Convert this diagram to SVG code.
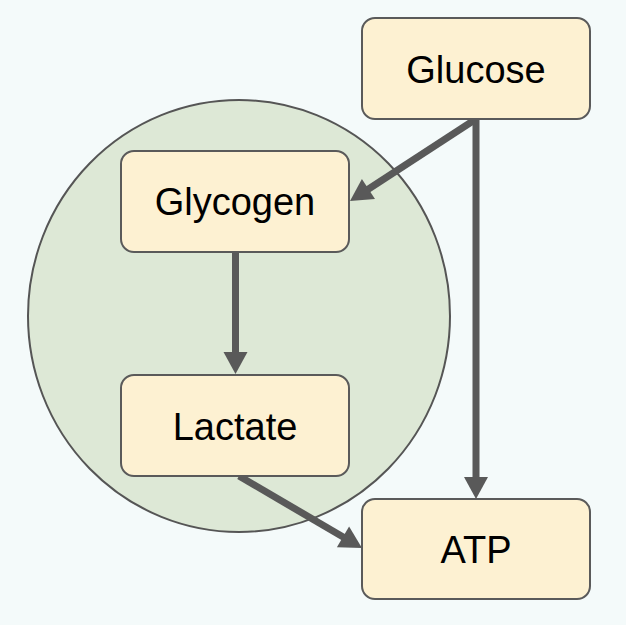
<svg xmlns="http://www.w3.org/2000/svg" width="626" height="625" viewBox="0 0 626 625">
<style>
.box{fill:#fdf1d2;stroke:#5a5a5a;stroke-width:2}
.lbl{font-family:"Liberation Sans",Arial,sans-serif;font-size:38px;fill:#000;text-anchor:middle}
.edge{stroke:#595959;stroke-width:7;fill:none}
.head{fill:#595959;stroke:none}
</style>
<rect width="626" height="625" fill="#f4fafa"/>
<g id="region">
<ellipse cx="239" cy="316" rx="211" ry="216" fill="#dde8d6" stroke="#555" stroke-width="2"/>
</g>
<g id="connectors">
<line class="edge" x1="476" y1="119" x2="367" y2="190"/>
<polygon class="head" points="350,201 375,199.1 361.9,178.9"/>
<line class="edge" x1="476" y1="119" x2="476" y2="478"/>
<polygon class="head" points="476,499 464,477 488,477"/>
<line class="edge" x1="235.5" y1="252" x2="235.5" y2="353"/>
<polygon class="head" points="235.5,374 223.5,352 247.5,352"/>
<line class="edge" x1="239" y1="476" x2="344" y2="537.5"/>
<polygon class="head" points="362,548 336.9,547.3 349.1,526.5"/>
</g>
<g id="glucose">
<rect class="box" x="362" y="18" width="228" height="101" rx="13"/>
<text class="lbl" x="476" y="83">Glucose</text>
</g>
<g id="glycogen">
<rect class="box" x="121" y="151" width="228" height="101" rx="13"/>
<text class="lbl" x="235" y="215">Glycogen</text>
</g>
<g id="lactate">
<rect class="box" x="121" y="375" width="228" height="101" rx="13"/>
<text class="lbl" x="235" y="440">Lactate</text>
</g>
<g id="atp">
<rect class="box" x="362" y="499" width="228" height="100" rx="13"/>
<text class="lbl" x="476" y="563">ATP</text>
</g>
</svg>
